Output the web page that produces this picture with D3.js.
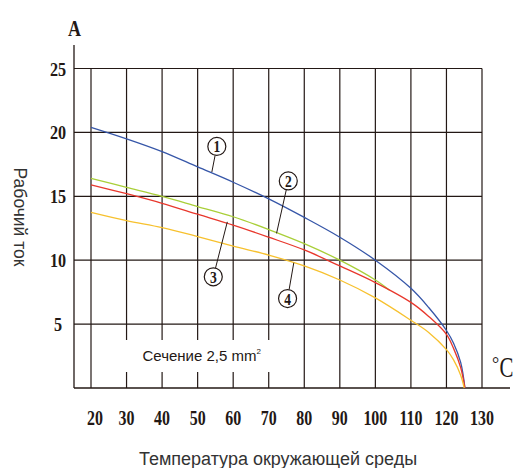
<!DOCTYPE html>
<html>
<head>
<meta charset="utf-8">
<script src="https://cdn.jsdelivr.net/npm/d3@7"></script>
<style>
	html, body { margin: 0; padding: 0; background: #fff; }
	svg { display: block; }
</style>
</head>
<body>
<div id="chart"></div>
<script>
// Ambient temperature, °C
const temps = [20, 30, 40, 50, 60, 70, 80, 90, 100, 110, 115, 120, 122, 124, 125.2];
const tempsGreen = [20, 30, 40, 50, 60, 70, 80, 90, 100, 104];
const tempsOrange = [20, 30, 40, 50, 60, 70, 80, 90, 100, 110, 115, 120, 122, 124, 125.0];

// Working current, A
const current1 = [20.4, 19.5, 18.5, 17.3, 16.1, 14.8, 13.35, 11.8, 10.0, 7.8, 6.3, 4.5, 3.5, 2.0, 0];
const current2 = [16.4, 15.7, 15.0, 14.2, 13.4, 12.4, 11.3, 10.0, 8.45, 7.65];
const current3 = [15.9, 15.2, 14.45, 13.6, 12.75, 11.8, 10.8, 9.55, 8.25, 6.7, 5.6, 4.2, 3.1, 1.6, 0];
const current4 = [13.75, 13.1, 12.55, 11.85, 11.1, 10.4, 9.55, 8.45, 7.05, 5.3, 4.35, 3.0, 2.2, 1.0, 0];

const xTicks = [20, 30, 40, 50, 60, 70, 80, 90, 100, 110, 120, 130];
const yTicks = [5, 10, 15, 20, 25];

// circled curve numbers: circle centre and leader end, in data units
const labels = [
	{ n: "1", t: 55.4, i: 18.9, lt: 54.0, li: 16.9 },
	{ n: "2", t: 75.5, i: 16.2, lt: 72.2, li: 12.1 },
	{ n: "3", t: 54.4, i: 8.7, lt: 58.35, li: 13.0 },
	{ n: "4", t: 75.3, i: 7.0, lt: 77.05, li: 9.8 },
];

const ink = "#231815";

function drawChart() {
	const svg = d3
		.select("#chart")
		.append("svg")
		.attr("width", 515)
		.attr("height", 468);

	const x = d3.scaleLinear().domain([20, 130]).range([91, 482]);
	const y = d3.scaleLinear().domain([0, 25]).range([388, 68.5]);
	const left = 74;

	// Horizontal grid
	svg.append("g")
		.selectAll("line")
		.data(yTicks)
		.enter()
		.append("line")
		.attr("x1", left)
		.attr("x2", x(130))
		.attr("y1", (d) => y(d))
		.attr("y2", (d) => y(d))
		.attr("stroke", ink)
		.attr("stroke-width", 1.2);

	// Vertical grid
	svg.append("g")
		.selectAll("line")
		.data(xTicks)
		.enter()
		.append("line")
		.attr("x1", (d) => x(d))
		.attr("x2", (d) => x(d))
		.attr("y1", y(25))
		.attr("y2", y(0))
		.attr("stroke", ink)
		.attr("stroke-width", 1.2);

	// Axes
	svg.append("line")
		.attr("x1", left).attr("x2", left)
		.attr("y1", 45).attr("y2", y(0))
		.attr("stroke", ink).attr("stroke-width", 1.3);
	svg.append("line")
		.attr("x1", left).attr("x2", 510)
		.attr("y1", y(0)).attr("y2", y(0))
		.attr("stroke", ink).attr("stroke-width", 1.3);

	// Note box (breaks the grid lines)
	svg.append("rect")
		.attr("x", 104).attr("y", 340)
		.attr("width", 182).attr("height", 32)
		.attr("fill", "#fff");
	const note = svg.append("text")
		.attr("x", 142.5)
		.attr("y", 361)
		.attr("font-family", "Liberation Sans, Arial, sans-serif")
		.attr("font-size", 15)
		.attr("fill", ink)
		.text("Сечение 2,5 mm");
	note.append("tspan")
		.attr("font-size", 8)
		.attr("dy", -7)
		.text("2");

	// Curves
	const series = [
		{ t: temps, v: current1, color: "#3656a8" },
		{ t: tempsGreen, v: current2, color: "#a9cf38" },
		{ t: temps, v: current3, color: "#e8372c" },
		{ t: tempsOrange, v: current4, color: "#f7c12e" },
	];
	const line = d3
		.line()
		.x((d) => x(d[0]))
		.y((d) => y(d[1]))
		.curve(d3.curveCatmullRom.alpha(0.5));

	svg.append("g")
		.selectAll("path")
		.data(series)
		.enter()
		.append("path")
		.attr("d", (s) => line(s.t.map((t, k) => [t, s.v[k]])))
		.attr("fill", "none")
		.attr("stroke", (s) => s.color)
		.attr("stroke-width", 1.3);

	// Circled numbers with leader lines
	const r = 9;
	const lab = svg.append("g")
		.selectAll("g")
		.data(labels)
		.enter()
		.append("g");
	lab.append("line")
		.attr("x1", (d) => {
			const dx = x(d.lt) - x(d.t), dy = y(d.li) - y(d.i);
			return x(d.t) + (dx * r) / Math.hypot(dx, dy);
		})
		.attr("y1", (d) => {
			const dx = x(d.lt) - x(d.t), dy = y(d.li) - y(d.i);
			return y(d.i) + (dy * r) / Math.hypot(dx, dy);
		})
		.attr("x2", (d) => x(d.lt))
		.attr("y2", (d) => y(d.li))
		.attr("stroke", ink)
		.attr("stroke-width", 1);
	lab.append("circle")
		.attr("cx", (d) => x(d.t))
		.attr("cy", (d) => y(d.i))
		.attr("r", r)
		.attr("fill", "#fff")
		.attr("stroke", ink)
		.attr("stroke-width", 1.2);
	lab.append("text")
		.attr("transform", (d) => `translate(${x(d.t)},${y(d.i) + 6}) scale(0.8,1)`)
		.attr("text-anchor", "middle")
		.attr("font-family", "Liberation Serif, serif")
		.attr("font-weight", "bold")
		.attr("font-size", 17)
		.attr("fill", ink)
		.text((d) => d.n);

	// Tick labels
	svg.append("g")
		.selectAll("text")
		.data(yTicks)
		.enter()
		.append("text")
		.attr("transform", (d) => `translate(58,${y(d) + 7}) scale(0.85,1)`)
		.attr("text-anchor", "middle")
		.attr("font-family", "Liberation Serif, serif")
		.attr("font-weight", "bold")
		.attr("font-size", 19)
		.attr("fill", ink)
		.text((d) => d);

	svg.append("g")
		.selectAll("text")
		.data(xTicks)
		.enter()
		.append("text")
		.attr("transform", (d) => `translate(${x(d) + (d === 20 ? 4 : 0)},424.5) scale(0.76,1)`)
		.attr("text-anchor", "middle")
		.attr("font-family", "Liberation Serif, serif")
		.attr("font-weight", "bold")
		.attr("font-size", 21)
		.attr("fill", ink)
		.text((d) => d);

	// Unit marks
	svg.append("text")
		.attr("transform", "translate(74.5,36) scale(0.75,1)")
		.attr("text-anchor", "middle")
		.attr("font-family", "Liberation Serif, serif")
		.attr("font-weight", "bold")
		.attr("font-size", 24)
		.attr("fill", ink)
		.text("A");
	svg.append("text")
		.attr("transform", "translate(499.5,376.5) scale(0.72,1)")
		.attr("font-family", "Liberation Serif, serif")
		.attr("font-size", 29)
		.attr("fill", ink)
		.text("C");
	svg.append("text")
		.attr("x", 492)
		.attr("y", 370)
		.attr("font-family", "Liberation Serif, serif")
		.attr("font-size", 18)
		.attr("fill", ink)
		.text("°");

	// Axis titles
	svg.append("text")
		.attr("transform", "translate(13.5,217) rotate(90)")
		.attr("text-anchor", "middle")
		.attr("font-family", "Liberation Sans, Arial, sans-serif")
		.attr("font-size", 17.5)
		.attr("fill", "#333")
		.text("Рабочий ток");
	svg.append("text")
		.attr("x", 278)
		.attr("y", 465)
		.attr("text-anchor", "middle")
		.attr("font-family", "Liberation Sans, Arial, sans-serif")
		.attr("font-size", 18)
		.attr("fill", "#333")
		.text("Температура окружающей среды");
}

document.addEventListener("DOMContentLoaded", drawChart);
</script>
</body>
</html>
